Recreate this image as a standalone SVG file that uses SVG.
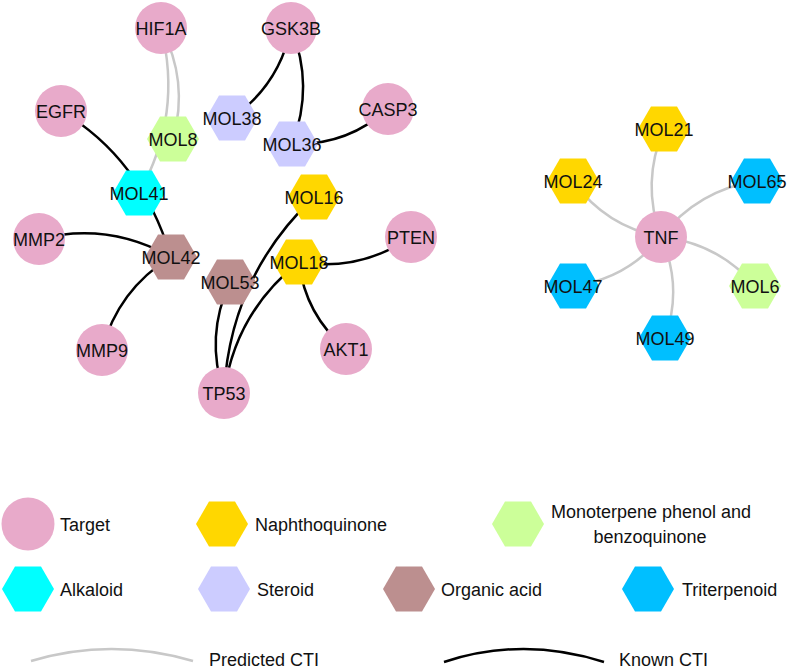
<svg xmlns="http://www.w3.org/2000/svg" xmlns:xlink="http://www.w3.org/1999/xlink" width="787" height="670" viewBox="0 0 787 670">
<style>
  .bg{fill:#ffffff}
  .known{fill:none;stroke:#000000;stroke-width:2.5}
  .pred{fill:none;stroke:#c8c8c8;stroke-width:2.5}
  .target{fill:#e8aaca}
  .nq{fill:#ffd700}
  .mono{fill:#ccff99}
  .alk{fill:#00ffff}
  .ster{fill:#ccccff}
  .org{fill:#bc8f8f}
  .tri{fill:#00bfff}
  text{font-family:"Liberation Sans",Arial,sans-serif;font-size:18px;fill:#111111}
  .lbl{text-anchor:middle}
</style>
<defs>
  <polygon id="hex" points="-26,0 -13,-22.5 13,-22.5 26,0 13,22.5 -13,22.5"/>
</defs>
<rect class="bg" x="0" y="0" width="787" height="670"/>

<g id="connectors">
  <path class="pred" d="M161,28 Q189.2,81.1 173,139"/>
  <path class="pred" d="M161,28 Q183,114.9 139,193"/>
  <path class="known" d="M61,111 Q141,158 171,257"/>
  <path class="known" d="M291,28 Q279.5,84.8 232,118"/>
  <path class="known" d="M291,28 Q314.7,85.8 292,144"/>
  <path class="known" d="M388,109 Q347,145.7 292,144"/>
  <path class="known" d="M39,239 Q108.6,221.6 171,257"/>
  <path class="known" d="M102,350 Q117.9,289.7 171,257"/>
  <path class="known" d="M224,393 Q204.8,336.3 230,282"/>
  <path class="known" d="M224,393 Q229.8,277 314,197"/>
  <path class="known" d="M224,393 Q235.3,312.5 299,262"/>
  <path class="known" d="M411,237 Q360,272 299,262"/>
  <path class="known" d="M346,349 Q305.1,314.9 299,262"/>
  <path class="pred" d="M661,237 Q640.9,182.4 664,129"/>
  <path class="pred" d="M661,237 Q605.8,226.6 573,181"/>
  <path class="pred" d="M661,237 Q697.8,189.8 757,181"/>
  <path class="pred" d="M661,237 Q717.8,242.7 755,286"/>
  <path class="pred" d="M661,237 Q683.2,286.7 665,338"/>
  <path class="pred" d="M661,237 Q626.8,279.1 573,286"/>
</g>

<g id="HIF1A"><circle class="target" cx="161" cy="28" r="26"/><text class="lbl" x="161" y="34.5">HIF1A</text></g>
<g id="GSK3B"><circle class="target" cx="291" cy="28" r="26"/><text class="lbl" x="291" y="34.5">GSK3B</text></g>
<g id="EGFR"><circle class="target" cx="61" cy="111" r="26"/><text class="lbl" x="61" y="117.5">EGFR</text></g>
<g id="CASP3"><circle class="target" cx="388" cy="109" r="26"/><text class="lbl" x="388" y="115.5">CASP3</text></g>
<g id="MMP2"><circle class="target" cx="39" cy="239" r="26"/><text class="lbl" x="39" y="245.5">MMP2</text></g>
<g id="PTEN"><circle class="target" cx="411" cy="237" r="26"/><text class="lbl" x="411" y="243.5">PTEN</text></g>
<g id="MMP9"><circle class="target" cx="102" cy="350" r="26"/><text class="lbl" x="102" y="356.5">MMP9</text></g>
<g id="AKT1"><circle class="target" cx="346" cy="349" r="26"/><text class="lbl" x="346" y="355.5">AKT1</text></g>
<g id="TP53"><circle class="target" cx="224" cy="393" r="26"/><text class="lbl" x="224" y="399.5">TP53</text></g>
<g id="TNF"><circle class="target" cx="661" cy="237" r="26"/><text class="lbl" x="661" y="243.5">TNF</text></g>

<g id="MOL8"><use xlink:href="#hex" href="#hex" class="mono" x="173" y="139"/><text class="lbl" x="173" y="145.5">MOL8</text></g>
<g id="MOL38"><use xlink:href="#hex" href="#hex" class="ster" x="232" y="118"/><text class="lbl" x="232" y="124.5">MOL38</text></g>
<g id="MOL36"><use xlink:href="#hex" href="#hex" class="ster" x="292" y="144"/><text class="lbl" x="292" y="150.5">MOL36</text></g>
<g id="MOL41"><use xlink:href="#hex" href="#hex" class="alk" x="139" y="193"/><text class="lbl" x="139" y="199.5">MOL41</text></g>
<g id="MOL16"><use xlink:href="#hex" href="#hex" class="nq" x="314" y="197"/><text class="lbl" x="314" y="203.5">MOL16</text></g>
<g id="MOL42"><use xlink:href="#hex" href="#hex" class="org" x="171" y="257"/><text class="lbl" x="171" y="263.5">MOL42</text></g>
<g id="MOL53"><use xlink:href="#hex" href="#hex" class="org" x="230" y="282"/><text class="lbl" x="230" y="288.5">MOL53</text></g>
<g id="MOL18"><use xlink:href="#hex" href="#hex" class="nq" x="299" y="262"/><text class="lbl" x="299" y="268.5">MOL18</text></g>
<g id="MOL21"><use xlink:href="#hex" href="#hex" class="nq" x="664" y="129"/><text class="lbl" x="664" y="135.5">MOL21</text></g>
<g id="MOL24"><use xlink:href="#hex" href="#hex" class="nq" x="573" y="181"/><text class="lbl" x="573" y="187.5">MOL24</text></g>
<g id="MOL65"><use xlink:href="#hex" href="#hex" class="tri" x="757" y="181"/><text class="lbl" x="757" y="187.5">MOL65</text></g>
<g id="MOL47"><use xlink:href="#hex" href="#hex" class="tri" x="573" y="286"/><text class="lbl" x="573" y="292.5">MOL47</text></g>
<g id="MOL6"><use xlink:href="#hex" href="#hex" class="mono" x="755" y="286"/><text class="lbl" x="755" y="292.5">MOL6</text></g>
<g id="MOL49"><use xlink:href="#hex" href="#hex" class="tri" x="665" y="338"/><text class="lbl" x="665" y="344.5">MOL49</text></g>

<g id="legend">
  <circle class="target" cx="28" cy="524" r="26.5"/>
  <text x="60" y="531">Target</text>
  <use xlink:href="#hex" href="#hex" class="nq" x="222" y="524"/>
  <text x="255" y="531">Naphthoquinone</text>
  <use xlink:href="#hex" href="#hex" class="mono" x="518" y="524"/>
  <text class="lbl" x="651" y="518">Monoterpene phenol and</text>
  <text class="lbl" x="650" y="543">benzoquinone</text>
  <use xlink:href="#hex" href="#hex" class="alk" x="28" y="589"/>
  <text x="60" y="596">Alkaloid</text>
  <use xlink:href="#hex" href="#hex" class="ster" x="224" y="589"/>
  <text x="257" y="596">Steroid</text>
  <use xlink:href="#hex" href="#hex" class="org" x="409" y="589"/>
  <text x="441" y="596">Organic acid</text>
  <use xlink:href="#hex" href="#hex" class="tri" x="648" y="589"/>
  <text x="682" y="596">Triterpenoid</text>
  <path class="pred" d="M31,661 Q111,637 193,661"/>
  <text x="209" y="666">Predicted CTI</text>
  <path class="known" d="M444,662 Q523,636 604,662"/>
  <text x="619" y="666">Known CTI</text>
</g>
</svg>
